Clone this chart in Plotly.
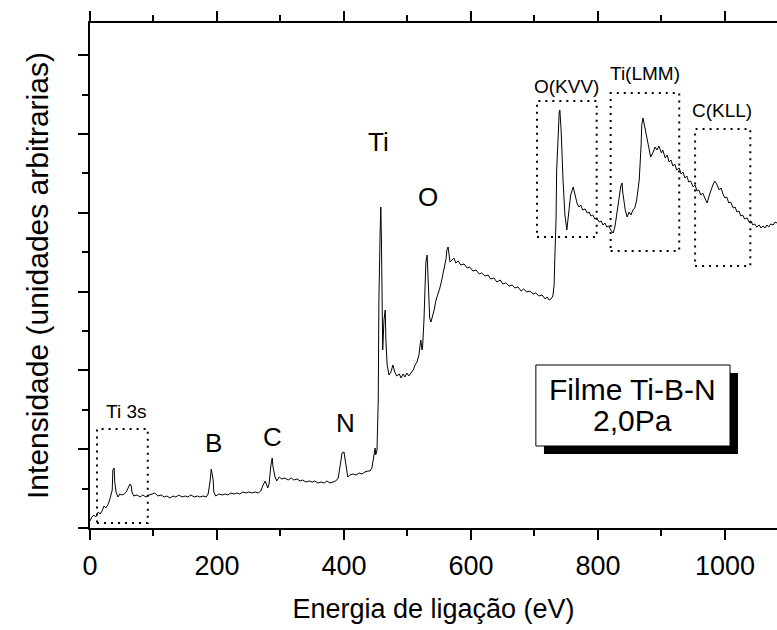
import plotly.graph_objects as go

# Spectrum (binding energy in eV, intensity in arbitrary units)
energy_ev = [0, 3, 6, 9, 13, 16, 19, 22, 25, 28, 31, 35, 36, 38, 39, 41, 44, 47, 50, 54, 57, 60, 63, 65, 66, 69,
             74, 79, 83, 88, 93, 98, 102, 107, 112, 117, 121, 126, 131, 135, 140, 145, 150, 154, 159, 164, 169, 173,
             178, 183, 186, 189, 191, 194, 195, 198, 203, 208, 213, 217, 222, 227, 231, 236, 241, 246, 250, 255, 260,
             265, 269, 272, 276, 280, 282, 285, 287, 288, 291, 294, 298, 302, 307, 312, 317, 321, 326, 331, 335, 340,
             345, 350, 354, 359, 364, 369, 373, 378, 383, 387, 391, 394, 397, 400, 403, 406, 409, 414, 419, 424, 428,
             433, 438, 441, 444, 447, 449, 450, 452, 454, 455, 457, 458, 459, 460, 461, 463, 465, 466, 468, 471, 474,
             477, 480, 483, 487, 490, 493, 496, 499, 502, 506, 509, 512, 515, 518, 520, 521, 523, 524, 526, 528, 529,
             531, 532, 534, 535, 537, 539, 542, 545, 548, 551, 554, 558, 561, 562, 564, 565, 567, 570, 573, 576, 580,
             584, 589, 594, 598, 603, 608, 613, 617, 622, 627, 631, 636, 641, 646, 650, 655, 660, 665, 669, 674, 679,
             683, 688, 693, 698, 702, 707, 712, 717, 720, 723, 726, 729, 731, 732, 734, 735, 737, 739, 740, 742, 745,
             748, 751, 754, 757, 761, 764, 767, 770, 773, 776, 780, 783, 786, 789, 792, 795, 798, 802, 805, 808, 811,
             814, 817, 820, 824, 827, 830, 833, 836, 838, 839, 843, 846, 849, 852, 855, 858, 861, 865, 868, 869, 871,
             874, 877, 880, 883, 887, 890, 893, 896, 900, 902, 906, 909, 912, 915, 918, 921, 924, 928, 931, 934, 937,
             940, 943, 946, 950, 953, 956, 959, 962, 965, 969, 972, 975, 978, 981, 984, 987, 991, 994, 997, 1000,
             1003, 1006, 1009, 1013, 1016, 1019, 1022, 1025, 1028, 1031, 1035, 1038, 1041, 1044, 1047, 1050, 1054,
             1057, 1060, 1063, 1066, 1069, 1072, 1076, 1079, 1082]
intensity = [178, 279, 330, 279, 406, 355, 431, 558, 508, 584, 711, 964, 1472, 1523, 1167, 914, 787, 863, 838, 863,
             914, 1015, 1117, 1066, 914, 812, 838, 787, 838, 787, 838, 863, 889, 812, 838, 787, 812, 761, 812, 787,
             838, 787, 812, 787, 838, 787, 812, 787, 812, 787, 863, 1167, 1497, 1218, 914, 812, 863, 838, 863, 838,
             889, 863, 889, 863, 914, 889, 914, 889, 914, 889, 939, 1066, 1193, 1015, 1117, 1599, 1777, 1574, 1320,
             1193, 1294, 1244, 1269, 1218, 1269, 1218, 1244, 1193, 1218, 1167, 1193, 1167, 1193, 1142, 1167, 1142,
             1193, 1142, 1167, 1193, 1269, 1599, 1904, 1929, 1574, 1294, 1345, 1371, 1345, 1396, 1371, 1421, 1447,
             1447, 1523, 1853, 2030, 1853, 1980, 3249, 5786, 7563, 8147, 7309, 5025, 4518, 5279, 5532, 4772, 4137,
             3883, 3959, 4137, 3959, 3858, 3909, 3807, 3909, 3833, 3934, 3858, 3959, 4010, 4137, 4213, 4391, 4645,
             4772, 4518, 4645, 5279, 6040, 6751, 6929, 6548, 5786, 5330, 5228, 5330, 5533, 5786, 5913, 6091, 6294,
             6599, 6853, 7056, 7132, 7005, 6751, 6802, 6853, 6726, 6776, 6675, 6700, 6599, 6624, 6523, 6548, 6447,
             6472, 6396, 6421, 6320, 6345, 6243, 6294, 6193, 6218, 6142, 6167, 6091, 6116, 6015, 6066, 5990, 6015,
             5939, 5964, 5888, 5913, 5812, 5863, 5786, 5812, 5888, 6167, 6802, 7817, 9086, 10101, 10558, 10609, 10101,
             8832, 7944, 7563, 7944, 8451, 8654, 8451, 8248, 8147, 8198, 8071, 8096, 7995, 8020, 7919, 7944, 7842,
             7868, 7766, 7792, 7690, 7741, 7639, 7665, 7563, 7487, 7665, 7970, 8325, 8680, 8756, 8528, 8071, 7893,
             8020, 7944, 8071, 8122, 8325, 8832, 9721, 10228, 10406, 10152, 9848, 9645, 9416, 9543, 9670, 9594, 9695,
             9518, 9594, 9391, 9467, 9289, 9340, 9188, 9239, 9086, 9137, 8984, 9035, 8883, 8934, 8781, 8807, 8654,
             8705, 8553, 8578, 8451, 8502, 8350, 8249, 8426, 8579, 8706, 8807, 8730, 8578, 8629, 8477, 8376, 8401,
             8249, 8274, 8122, 8147, 8020, 8046, 7919, 7944, 7843, 7868, 7766, 7792, 7690, 7716, 7639, 7690, 7614,
             7665, 7614, 7690, 7639, 7716, 7690, 7766, 7741]

x_ticks = [0, 200, 400, 600, 800, 1000]
x_tick_labels = ["0", "200", "400", "600", "800", "1000"]

# Peak labels: text, energy, intensity
peak_labels = ["Ti 3s", "B", "C", "N", "Ti", "O", "O(KVV)", "Ti(LMM)", "C(KLL)"]
peak_label_x = [57, 195, 288, 403, 455, 532, 750, 874, 995]
peak_label_y = [2969, 2157, 2310, 2665, 9797, 8401, 11193, 11548, 10609]
peak_label_size = [19, 26, 26, 26, 26, 26, 19, 19, 19]

# Dotted boxes marking regions: x0, x1, y0, y1
box_x0 = [11, 704, 820, 953]
box_x1 = [91, 798, 928, 1040]
box_y0 = [127, 7386, 7030, 6650]
box_y1 = [2513, 10837, 11040, 10127]

legend_lines = ["Filme Ti-B-N", "2,0Pa"]

FONT = "Liberation Sans, Arial, sans-serif"

fig = go.Figure()
fig.add_trace(go.Scatter(x=energy_ev, y=intensity, mode="lines",
                         line=dict(color="black", width=1), showlegend=False, hoverinfo="skip"))

for x0, x1, y0, y1 in zip(box_x0, box_x1, box_y0, box_y1):
    fig.add_shape(type="rect", xref="x", yref="y", x0=x0, x1=x1, y0=y0, y1=y1,
                  line=dict(color="black", width=2, dash="2px,5px"), fillcolor="rgba(0,0,0,0)")

for t, x, y, s in zip(peak_labels, peak_label_x, peak_label_y, peak_label_size):
    fig.add_annotation(x=x, y=y, xref="x", yref="y", text=t, showarrow=False,
                       xanchor="center", yanchor="middle",
                       font=dict(family=FONT, size=s, color="black"))

# legend-like box with shadow
fig.add_shape(type="rect", xref="paper", yref="paper", x0=0.6608, x1=0.9432, y0=0.1465, y1=0.3069,
              line=dict(color="black", width=0), fillcolor="black", layer="above")
fig.add_shape(type="rect", xref="paper", yref="paper", x0=0.649, x1=0.9316, y0=0.1624, y1=0.3228,
              line=dict(color="black", width=1), fillcolor="white", layer="above")
for line_text, ypos in zip(legend_lines, [0.2752, 0.2119]):
    fig.add_annotation(x=0.790, y=ypos, xref="paper", yref="paper", text=line_text, showarrow=False,
                       xanchor="center", yanchor="middle",
                       font=dict(family=FONT, size=30, color="black"), align="center")

fig.update_layout(
    width=777, height=630,
    margin=dict(l=90, r=0, t=23, b=102),
    paper_bgcolor="white", plot_bgcolor="white",
    font=dict(family=FONT, color="black"),
    xaxis=dict(range=[0, 1082], tickvals=x_ticks, ticktext=x_tick_labels,
               showline=True, linecolor="black", linewidth=2, mirror="ticks",
               ticks="outside", ticklen=10, tickwidth=2, tickcolor="black",
               minor=dict(dtick=100, tick0=0, ticks="outside", ticklen=6, tickwidth=2, tickcolor="black"),
               showgrid=False, zeroline=False, ticklabelstandoff=3,
               tickfont=dict(family=FONT, size=27, color="black"),
               title=dict(text="Energia de ligação (eV)", font=dict(family=FONT, size=27, color="black"),
                          standoff=19)),
    yaxis=dict(range=[0, 12817], dtick=2000, tick0=0, showticklabels=False,
               showline=True, linecolor="black", linewidth=2,
               ticks="outside", ticklen=10, tickwidth=2, tickcolor="black",
               minor=dict(dtick=1000, tick0=0, ticks="outside", ticklen=6, tickwidth=2, tickcolor="black"),
               showgrid=False, zeroline=False,
               title=dict(text="Intensidade (unidades arbitrarias)", font=dict(family=FONT, size=30, color="black"),
                          standoff=21)),
)

fig.write_html("out.html")
